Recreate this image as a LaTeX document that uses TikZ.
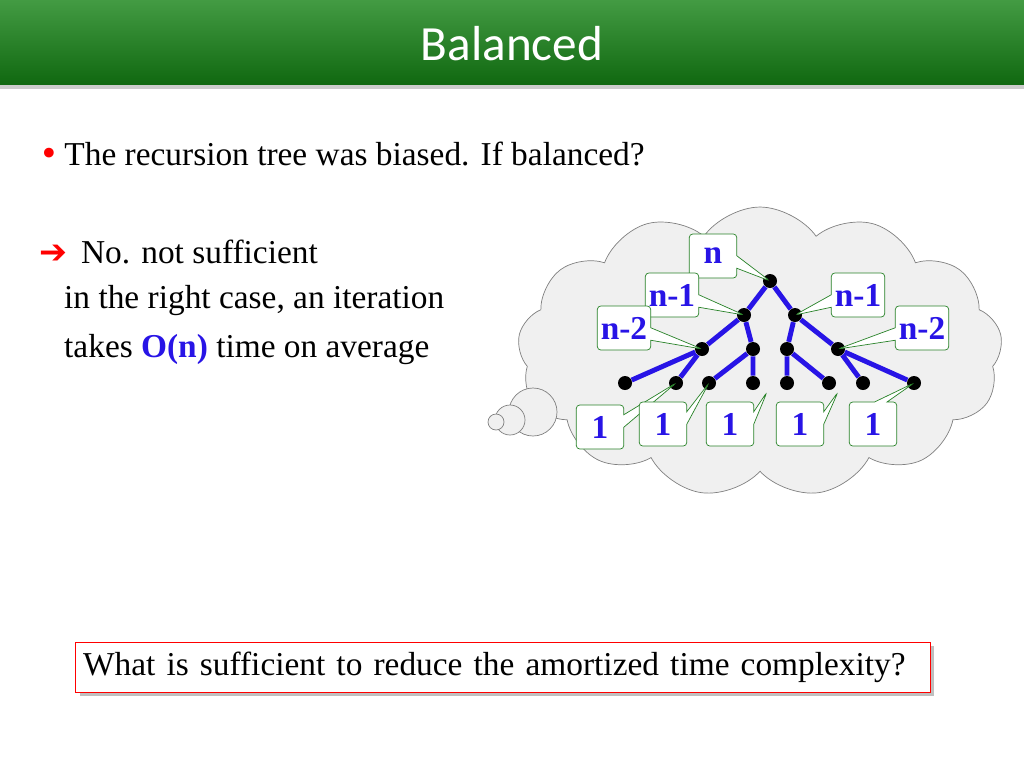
\documentclass[tikz,border=0pt]{standalone}
\usepackage{fontspec}
\setmainfont{Liberation Serif}
\newfontfamily\titlefont{Carlito}
\newfontfamily\symfont{DejaVu Sans}
\usetikzlibrary{shapes.symbols,shapes.callouts,shadows}

\definecolor{slidegreen}{RGB}{20,130,20}
\definecolor{treeblue}{RGB}{40,20,230}
\definecolor{boxgreen}{RGB}{40,130,40}

\tikzset{
    dot/.style={circle, fill=black, inner sep=0pt, minimum size=0.28cm},
    branch/.style={treeblue, line width=2.8pt},
    tag/.style={rectangle callout, draw=boxgreen, fill=white, rounded corners=2pt,
        text=treeblue, font=\fontsize{19}{19}\selectfont\bfseries, inner sep=2pt,
        minimum width=0.95cm, minimum height=0.88cm},
    body/.style={anchor=west, font=\fontsize{19}{19}\selectfont},
}

\begin{document}
\begin{tikzpicture}[x=0.02cm, y=-0.02cm]
    \useasboundingbox (0,0) rectangle (1024,768);

    % Title bar
    \shade[top color=slidegreen!80!white, bottom color=slidegreen!80!black] (0,0) rectangle (1024,85);
    \fill[gray!40] (0,85) rectangle (1024,89);
    \node (title) at (512,44) {\titlefont\fontsize{28}{28}\selectfont\color{white}Balanced};

    % Text
    \node[body] (line1) at (33,154)
        {\textcolor{red}{\symfont\textbullet}\,The recursion tree was biased. If balanced?};
    \node[body] (line2) at (33,252)
        {\textcolor{red}{\symfont ➔}\, No. not sufficient};
    \node[body] (line3) at (58,301) {in the right case, an iteration};
    \node[body] (line4) at (58,350)
        {takes \textcolor{treeblue}{\bfseries O(n)} time on average};

    % Cloud
    \node[cloud, cloud puffs=13, cloud puff arc=110, aspect=1.7, draw=gray, fill=gray!12,
        minimum width=9.7cm, minimum height=5.8cm] (thought) at (760,352) {};
    \draw[gray, fill=gray!12] (533,412) circle (24);
    \draw[gray, fill=gray!12] (510,420) circle (15);
    \draw[gray, fill=gray!12] (496,422) circle (8);

    % Tree
    \node[dot] (root) at (770,281) {};
    \node[dot] (l) at (744,315) {};
    \node[dot] (r) at (795,315) {};
    \node[dot] (a) at (702,349) {};
    \node[dot] (b) at (753,349) {};
    \node[dot] (c) at (787,349) {};
    \node[dot] (d) at (838,349) {};
    \foreach \i/\x in {1/625,2/676,3/709,4/753,5/787,6/829,7/863,8/914}
        \node[dot] (x\i) at (\x,383) {};
    \draw[branch] (root) -- (l) (root) -- (r) (l) -- (a) (l) -- (b) (r) -- (c) (r) -- (d)
        (a) -- (x1) (a) -- (x2) (b) -- (x3) (b) -- (x4)
        (c) -- (x5) (c) -- (x6) (d) -- (x7) (d) -- (x8);

    % Labels
    \node[tag, callout absolute pointer={(root.center)}] (tn) at (713,256) {n};
    \node[tag, callout absolute pointer={(l.center)}] (tl) at (672,295) {n-1};
    \node[tag, callout absolute pointer={(a.center)}] (ta) at (624,328) {n-2};
    \node[tag, callout absolute pointer={(r.center)}] (tr) at (858,295) {n-1};
    \node[tag, callout absolute pointer={(d.center)}] (td) at (922,328) {n-2};
    \coordinate (p3) at (767,392);
    \coordinate (p4) at (838,392);
    \node[tag, callout absolute pointer={(x2.center)}] (o1) at (600,427) {1};
    \node[tag, callout absolute pointer={(x3.center)}] (o2) at (663,424) {1};
    \node[tag, callout absolute pointer={(p3)}] (o3) at (730,424) {1};
    \node[tag, callout absolute pointer={(p4)}] (o4) at (800,424) {1};
    \node[tag, callout absolute pointer={(x8.center)}] (o5) at (873,424) {1};

    % Question
    \node[draw=red, fill=white, drop shadow, minimum width=17.1cm, minimum height=1cm,
        text width=16.8cm, align=left, font=\fontsize{19}{19}\selectfont] (question) at (503,667)
        {What is sufficient to reduce the amortized time complexity?};
\end{tikzpicture}
\end{document}
